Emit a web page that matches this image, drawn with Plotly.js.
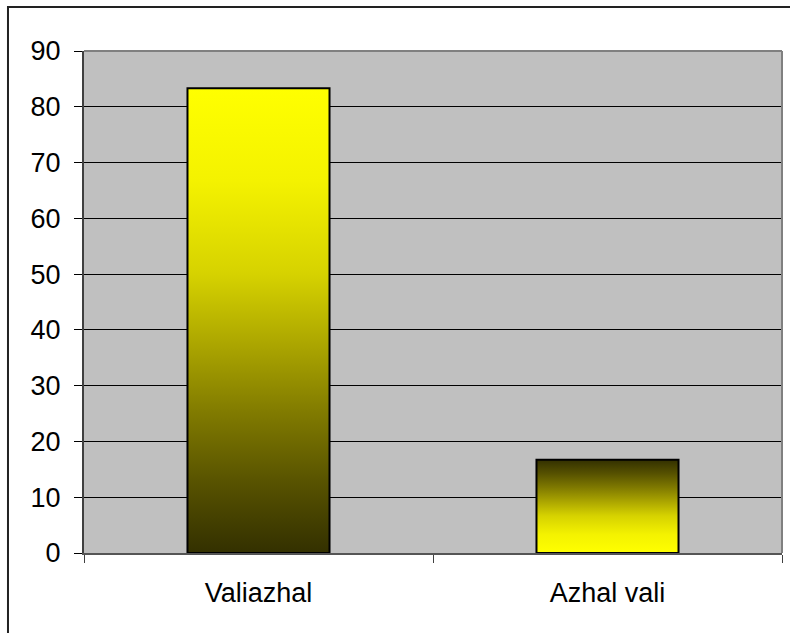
<!DOCTYPE html>
<html>
<head>
<meta charset="utf-8">
<script src="https://cdn.plot.ly/plotly-3.0.1.min.js"></script>
<style>
  html, body { margin: 0; padding: 0; background: #ffffff; }
  #chart { width: 790px; height: 633px; }
</style>
</head>
<body>
<div id="chart"></div>
<script>
// ---- data ----
var categories = ["Valiazhal", "Azhal vali"];
var values = [83.3, 16.7];
var yTickValues = [0, 10, 20, 30, 40, 50, 60, 70, 80, 90];

// ---- gradient styles (offset from top, colour) per bar ----
var gradYellowToDark = [
  [0, "#ffff00"], [0.2, "#f4f200"], [0.4, "#d6d200"], [0.55, "#aca600"],
  [0.7, "#807a00"], [0.85, "#575200"], [1, "#333000"]
];
var gradDarkToYellow = gradYellowToDark.map(function (s) { return [1 - s[0], s[1]]; }).reverse();
var gradientStops = [gradYellowToDark, gradDarkToYellow];

var trace = {
  type: "bar",
  x: categories,
  y: values,
  marker: { color: "#ffff00", line: { color: "#000000", width: 2 } },
  hoverinfo: "none"
};

var layout = {
  width: 790,
  height: 633,
  margin: { l: 84, r: 8, t: 51, b: 80, pad: 0 },
  paper_bgcolor: "#ffffff",
  plot_bgcolor: "#c0c0c0",
  showlegend: false,
  bargap: 0.593,
  font: { family: "Liberation Sans, Arial, sans-serif", size: 27, color: "#000000" },
  xaxis: {
    type: "category",
    tickson: "boundaries",
    ticks: "outside",
    ticklen: 8,
    tickcolor: "#404040",
    tickwidth: 1,
    showline: true,
    linecolor: "#555555",
    linewidth: 2,
    showgrid: false,
    ticklabelstandoff: 15,
    tickfont: { size: 27, color: "#000000" }
  },
  yaxis: {
    range: [0, 90],
    tickvals: yTickValues,
    ticktext: yTickValues.map(String),
    ticks: "outside",
    ticklen: 8,
    tickcolor: "#000000",
    tickwidth: 1,
    showline: true,
    linecolor: "#404040",
    linewidth: 2,
    showgrid: true,
    gridcolor: "#000000",
    gridwidth: 1,
    zeroline: false,
    ticklabelstandoff: 8,
    tickfont: { size: 27, color: "#000000" }
  },
  shapes: [
    { type: "line", xref: "paper", yref: "paper", x0: 0, x1: 1, y0: 1, y1: 1,
      line: { color: "#808080", width: 2 } },
    { type: "line", xref: "paper", yref: "paper", x0: 1, x1: 1, y0: 0, y1: 1,
      line: { color: "#808080", width: 2 } },
    { type: "rect", xref: "paper", yref: "paper", x0: -0.1089, x1: 2, y0: -2, y1: 1.0876,
      line: { color: "#222222", width: 2 }, fillcolor: "rgba(0,0,0,0)" }
  ]
};

Plotly.newPlot("chart", [trace], layout, { staticPlot: true, displayModeBar: false }).then(function (gd) {
  var svg = gd.querySelector("svg.main-svg");
  var ns = "http://www.w3.org/2000/svg";
  var defs = svg.querySelector("defs");
  if (!defs) { defs = document.createElementNS(ns, "defs"); svg.insertBefore(defs, svg.firstChild); }
  gradientStops.forEach(function (stops, i) {
    var g = document.createElementNS(ns, "linearGradient");
    g.setAttribute("id", "barGrad" + i);
    g.setAttribute("x1", "0"); g.setAttribute("y1", "0");
    g.setAttribute("x2", "0"); g.setAttribute("y2", "1");
    stops.forEach(function (s) {
      var st = document.createElementNS(ns, "stop");
      st.setAttribute("offset", String(s[0]));
      st.setAttribute("stop-color", s[1]);
      g.appendChild(st);
    });
    defs.appendChild(g);
  });
  var paths = gd.querySelectorAll(".bars .point path");
  paths.forEach(function (p, i) {
    p.style.fill = "url(#barGrad" + i + ")";
  });
});
</script>
</body>
</html>
